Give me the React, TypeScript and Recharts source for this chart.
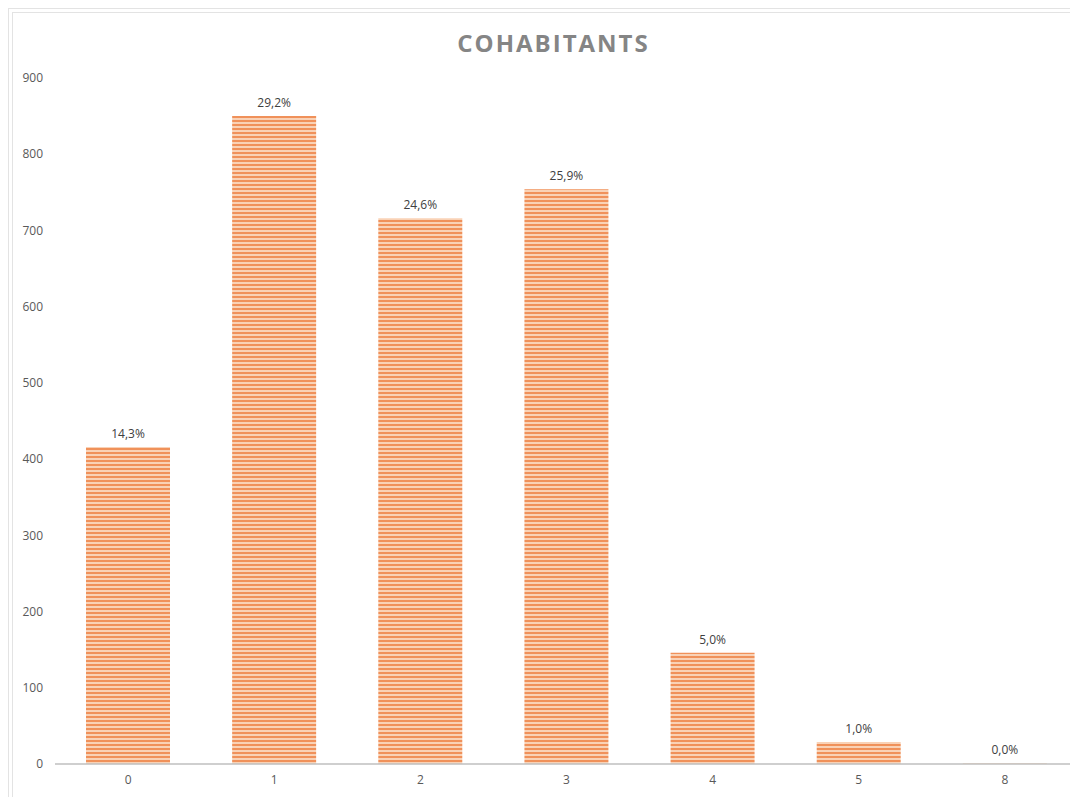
import React from "react";
import { BarChart, Bar, XAxis, YAxis, LabelList } from "recharts";

const categories = ["0", "1", "2", "3", "4", "5", "8"];
const counts = [416, 850, 716, 754, 146, 29, 1];
const shares = ["14,3%", "29,2%", "24,6%", "25,9%", "5,0%", "1,0%", "0,0%"];
const yTicks = [0, 100, 200, 300, 400, 500, 600, 700, 800, 900];

const data = categories.map((c, i) => ({
  name: c,
  value: counts[i],
  share: shares[i],
}));

const FONT = "'Open Sans', 'Noto Sans', sans-serif";

export default function App() {
  return (
    <div
      style={{
        position: "relative",
        width: 1070,
        height: 789,
        overflow: "hidden",
        borderTop: "1px solid #e3e3e3",
        borderLeft: "1px solid #e3e3e3",
        boxSizing: "border-box",
        background: "#fff",
      }}
    >
      {/* inner frame line */}
      <div
        style={{
          position: "absolute",
          left: 3,
          top: 3,
          width: 1100,
          height: 800,
          borderTop: "1px solid #e3e3e3",
          borderLeft: "1px solid #e3e3e3",
        }}
      />
      <div
        style={{
          position: "absolute",
          left: 0,
          width: 1089,
          top: 17,
          textAlign: "center",
          fontFamily: FONT,
          fontWeight: 700,
          fontSize: 24,
          letterSpacing: 2,
          color: "#858585",
        }}
      >
        COHABITANTS
      </div>
      <div style={{ position: "absolute", left: -1, top: -1 }}>
        <BarChart
          width={1070}
          height={789}
          data={data}
          margin={{ top: 70, right: 0, left: 0, bottom: 3 }}
        >
          <defs>
            <pattern
              id="stripes"
              width="8"
              height="4"
              patternUnits="userSpaceOnUse"
            >
              <rect width="8" height="4" fill="#f9d2b6" />
              <rect width="8" height="2" fill="#f0915a" />
            </pattern>
          </defs>
          <XAxis
            dataKey="name"
            axisLine={{ stroke: "#bfbfbf", strokeWidth: 1.5 }}
            tickLine={false}
            tickSize={6}
            tickMargin={5}
            height={30}
            tick={{ fill: "#595959", fontSize: 12, fontFamily: FONT }}
          />
          <YAxis
            domain={[0, 900]}
            ticks={yTicks}
            width={47}
            axisLine={false}
            tickLine={false}
            tickSize={8}
            tickMargin={4}
            tick={{ fill: "#595959", fontSize: 12, fontFamily: FONT }}
          />
          <Bar
            dataKey="value"
            fill="url(#stripes)"
            barSize={84}
            isAnimationActive={false}
          >
            <LabelList
              dataKey="share"
              position="top"
              offset={9}
              fill="#404040"
              fontSize={12}
              fontFamily={FONT}
            />
          </Bar>
        </BarChart>
      </div>
    </div>
  );
}
